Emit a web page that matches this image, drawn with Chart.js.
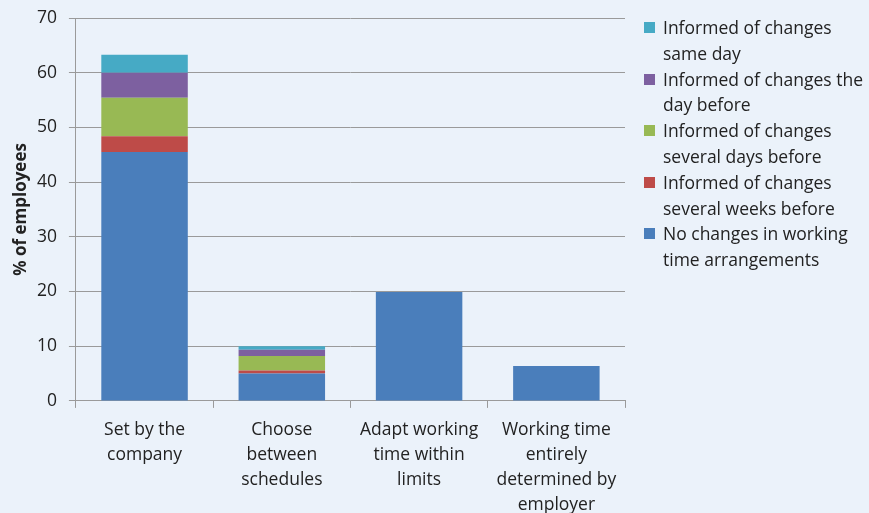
<!DOCTYPE html>
<html>
<head>
<meta charset="utf-8">
<script src="https://cdn.jsdelivr.net/npm/chart.js@4/dist/chart.umd.min.js"></script>
<style>
  html, body { margin: 0; padding: 0; background: #EBF2FA; overflow: hidden; }
  #wrap { position: relative; width: 869px; height: 513px; }
  #legend { position: absolute; left: 644px; top: 15px; font-family: 'Open Sans', sans-serif; font-size: 17.5px; color: #222; line-height: 25.8px; white-space: nowrap; }
  .item { position: relative; padding-left: 19px; }
  .sw { position: absolute; left: 0; top: 7px; width: 11px; height: 11px; }
</style>
</head>
<body>
<div id="wrap">
  <canvas id="chart" width="869" height="513"></canvas>
  <div id="legend"></div>
</div>
<script>
// Categorías y series
const categories = [
    ['Set by the', 'company'],
    ['Choose', 'between', 'schedules'],
    ['Adapt working', 'time within', 'limits'],
    ['Working time', 'entirely', 'determined by', 'employer']
];
const noChanges   = [45.5, 5.0, 19.9, 6.4];
const weeksBefore = [2.9, 0.55, 0, 0];
const daysBefore  = [7.0, 2.65, 0, 0];
const dayBefore   = [4.6, 1.15, 0, 0];
const sameDay     = [3.3, 0.65, 0, 0];
const yTicks = [0, 10, 20, 30, 40, 50, 60, 70];

const series = [
    { label: ['No changes in working', 'time arrangements'], data: noChanges, color: '#4A7EBB' },
    { label: ['Informed of changes', 'several weeks before'], data: weeksBefore, color: '#BE4B48' },
    { label: ['Informed of changes', 'several days before'], data: daysBefore, color: '#98B954' },
    { label: ['Informed of changes the', 'day before'], data: dayBefore, color: '#7D60A0' },
    { label: ['Informed of changes', 'same day'], data: sameDay, color: '#46AAC5' }
];

const font = { family: "'Open Sans', sans-serif", size: 17.5 };
const gridColor = '#9a9a9a';

const chart = new Chart(document.getElementById('chart'), {
    type: 'bar',
    data: {
        labels: categories,
        datasets: series.map(s => ({
            label: s.label.join(' '),
            data: s.data,
            backgroundColor: s.color,
            borderWidth: 0,
            barPercentage: 0.63,
            categoryPercentage: 1
        }))
    },
    options: {
        responsive: false,
        animation: false,
        layout: { padding: { top: 18, right: 244, bottom: -15, left: 2 } },
        plugins: { legend: { display: false }, tooltip: { enabled: false } },
        scales: {
            x: {
                stacked: true,
                offset: true,
                grid: { display: true, drawOnChartArea: false, offset: true, color: gridColor, tickLength: 7 },
                border: { color: gridColor },
                ticks: { color: '#222', font: { family: font.family, size: font.size, lineHeight: 1.43 }, maxRotation: 0, padding: 10 }
            },
            y: {
                stacked: true,
                min: 0,
                max: 70,
                afterBuildTicks: axis => { axis.ticks = yTicks.map(v => ({ value: v })); },
                afterFit: axis => { axis.paddingTop = 0; },
                grid: { color: gridColor, tickLength: 7 },
                border: { color: gridColor },
                ticks: { color: '#222', font: font, padding: 12 },
                title: { display: true, text: '% of employees', color: '#222', font: { family: font.family, size: 17, weight: 'bold' }, padding: { top: 8.5, bottom: -6 } }
            }
        }
    }
});

// Leyenda HTML (orden inverso, como en el original)
const legendEl = document.getElementById('legend');
series.slice().reverse().forEach(s => {
    const div = document.createElement('div');
    div.className = 'item';
    div.innerHTML = '<span class="sw" style="background:' + s.color + '"></span>' + s.label.join('<br>');
    legendEl.appendChild(div);
});
</script>
</body>
</html>
